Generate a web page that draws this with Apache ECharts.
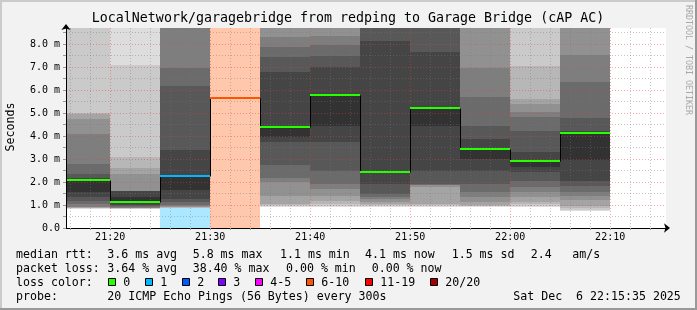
<!DOCTYPE html>
<html><head><meta charset="utf-8">
<script src="https://cdn.jsdelivr.net/npm/echarts@6/dist/echarts.min.js"></script>
<style>html,body{margin:0;padding:0;background:#f2f2f2;}#c{width:697px;height:310px;}</style>
</head><body><div id="c"></div>
<script>
// ---------------- DATA ----------------
const titleText = 'LocalNetwork/garagebridge from redping to Garage Bridge (cAP AC)';
const yAxisTitle = 'Seconds';
const watermark = 'RRDTOOL / TOBI OETIKER';
const viewStart = '21:15:35';
const viewEnd = '22:15:35';
const stepMinutes = 5;
const columnStart = ['21:15','21:20','21:25','21:30','21:35','21:40','21:45','21:50','21:55','22:00','22:05'];
const medianMs = [2.09, 1.12, 2.27, 5.67, 4.41, 5.78, 2.45, 5.23, 3.43, 2.93, 4.14];
const lostPings = [0, 0, 1, 8, 0, 0, 0, 0, 0, 0, 0];
// 20 sorted ping RTTs (ms) per 5-minute step; null = lost ping
const pingsC01 = [0.83,0.85,0.87,0.89,0.91,0.93,1.04,1.19,1.33,1.55,2.06,2.19,2.33,2.78,4.09,4.74,4.96,5.00,9.6,12.4];
const pingsC02 = [0.83,0.84,0.85,0.86,0.87,0.89,0.92,0.96,1.02,1.12,1.33,1.60,1.61,1.62,1.63,2.35,2.61,3.07,7.10,10.5];
const pingsC03 = [0.85,0.87,0.89,0.91,0.93,0.96,1.00,1.12,1.26,1.65,2.28,3.39,6.19,6.97,9.2,10.1,11.5,13.0,15.8,null];
const pingsC04 = [];
const pingsC05 = [0.93,0.96,1.00,1.04,1.41,1.98,2.16,2.74,3.75,3.97,4.41,6.77,7.42,7.86,8.29,9.1,9.8,10.9,12.6,15.3];
const pingsC06 = [0.93,0.97,1.05,1.19,1.41,1.70,1.91,2.49,3.72,4.45,5.80,6.99,7.49,7.97,8.36,9.2,10.3,11.6,13.8,17.0];
const pingsC07 = [0.93,0.96,1.00,1.06,1.15,1.26,1.33,1.48,1.91,2.40,2.45,8.14,9.0,9.6,10.4,11.3,12.5,14.0,16.2,19.5];
const pingsC08 = [0.93,0.96,1.00,1.04,1.80,1.85,1.88,1.91,2.49,4.45,5.25,7.64,9.1,9.7,10.5,11.4,12.6,14.1,16.5,20.0];
const pingsC09 = [0.93,0.95,0.97,1.00,1.12,1.33,1.55,1.91,2.49,3.00,3.43,3.87,4.45,5.68,6.98,9.3,10.2,11.4,13.1,16.0];
const pingsC10 = [0.93,0.97,1.05,1.15,1.33,1.55,1.80,2.06,2.42,2.64,2.93,3.29,4.23,4.81,5.03,5.39,5.61,7.06,9.4,12.2];
const pingsC11 = [0.75,0.80,0.85,0.97,1.20,1.41,1.55,1.84,2.06,2.96,4.15,4.20,4.78,6.33,7.54,9.0,9.9,11.0,12.9,15.6];
const yMaxMs = 8.7;
const yTickStep = 1;
const xLabelTimes = ['21:20','21:30','21:40','21:50','22:00','22:10'];
const lossLabels = ['0','1','2','3','4-5','6-10','11-19','20/20'];
const lossColors = ['#26ff00','#00b8ff','#0059ff','#7e00ff','#ff00ff','#ff5500','#ff0000','#a10000'];
const legendRtt = ['median rtt:','3.6 ms avg','5.8 ms max','1.1 ms min','4.1 ms now','1.5 ms sd','2.4','am/s'];
const legendLoss = ['packet loss:','3.64 % avg','38.40 % max','0.00 % min','0.00 % now'];
const legendLossColorLabel = 'loss color:';
const legendProbe = ['probe:','20 ICMP Echo Pings (56 Bytes) every 300s','Sat Dec  6 22:15:35 2025'];

// ---------------- BUILD ----------------
const MONO = '"DejaVu Sans Mono", monospace';
function hm(s){ const a = s.split(':').map(Number); return a[0]*60 + a[1] + (a[2]||0)/60; }
const xMin = hm(viewStart), xMax = hm(viewEnd);
const pingsByColumn = [pingsC01,pingsC02,pingsC03,pingsC04,pingsC05,pingsC06,pingsC07,pingsC08,pingsC09,pingsC10,pingsC11];
function lossBucket(n){ return n===0?0:n===1?1:n===2?2:n===3?3:n<=5?4:n<=10?5:n<20?6:7; }
function smokeGray(k){ const g = Math.floor(190/10*(10-k)) + 50; return 'rgb('+g+','+g+','+g+')'; }
function blend(hex, a){
  const r=parseInt(hex.substr(1,2),16), g=parseInt(hex.substr(3,2),16), b=parseInt(hex.substr(5,2),16);
  const f=v=>Math.round(255-(255-v)*a);
  return 'rgb('+f(r)+','+f(g)+','+f(b)+')';
}

const bandData = [];
const lossBgData = [];
const medianData = [];
columnStart.forEach((s,i)=>{
  const t0 = hm(s), t1 = t0 + stepMinutes;
  const p = pingsByColumn[i];
  if (p.length) {
    for (let k=1;k<=10;k++){
      const lo=p[k-1], hi=p[20-k];
      if (lo==null || hi==null) continue;
      bandData.push([t0,t1,lo,hi,k]);
    }
  }
  const b = lossBucket(lostPings[i]);
  if (lostPings[i] > 0) lossBgData.push([t0,t1,0,yMaxMs,b]);
  medianData.push([t0,t1,medianMs[i], i>0?medianMs[i-1]:medianMs[i], b]);
});

const xLabelValues = xLabelTimes.map(hm);
const xMinorValues = [];
for (let v=Math.ceil(xMin/2)*2; v<xMax; v+=2) xMinorValues.push(v);
const xMajorSet = new Set(xLabelValues);
const vGridData = xMinorValues.map(v=>[v, 0, xMajorSet.has(v)?1:0]);
const hGridData = [];
for (let v=0.5; v<yMaxMs; v+=0.5) hGridData.push([xMin, v, (Math.abs(v-Math.round(v))<1e-6)?1:0]);

const MINOR_GRID = 'rgba(120,120,120,0.42)';
const MAJOR_GRID = 'rgba(235,60,60,0.45)';

function clampRect(params, api, x0v, x1v, y0v, y1v){
  const cs = params.coordSys;
  const a = api.coord([x0v, y1v]), b = api.coord([x1v, y0v]);
  const x0 = Math.round(Math.max(a[0], cs.x)), x1 = Math.round(Math.min(b[0], cs.x+cs.width));
  const y0 = Math.round(Math.max(a[1], cs.y)), y1 = Math.round(Math.min(b[1], cs.y+cs.height));
  if (x1<=x0 || y1<=y0) return null;
  return {x:x0,y:y0,width:x1-x0,height:y1-y0};
}

const chart = echarts.init(document.getElementById('c'), null, {renderer:'canvas'});
const W=697, H=310;
const legendTextStyle = {fontFamily: MONO, fontSize: 11.6, fill:'#000', verticalAlign:'middle'};
const graphics = [];
graphics.push({type:'rect', z:-10, shape:{x:0,y:0,width:W,height:H}, style:{fill:'#f2f2f2'}, silent:true});
graphics.push({type:'rect', z:100, shape:{x:0,y:0,width:W,height:2}, style:{fill:'#cbcbcb'}, silent:true});
graphics.push({type:'rect', z:100, shape:{x:0,y:0,width:2,height:H}, style:{fill:'#cbcbcb'}, silent:true});
graphics.push({type:'rect', z:100, shape:{x:0,y:H-2,width:W,height:2}, style:{fill:'#999999'}, silent:true});
graphics.push({type:'rect', z:100, shape:{x:W-2,y:0,width:2,height:H}, style:{fill:'#999999'}, silent:true});
graphics.push({type:'text', x:348, y:19, style:{text:titleText, fontFamily:MONO, fontSize:13.3, fill:'#000', align:'center', verticalAlign:'middle'}});
graphics.push({type:'text', x:11, y:127, rotation:Math.PI/2, style:{text:yAxisTitle, fontFamily:MONO, fontSize:11.6, fill:'#000', align:'center', verticalAlign:'middle'}});
graphics.push({type:'text', x:688, y:60, rotation:-Math.PI/2, style:{text:watermark, fontFamily:MONO, fontSize:8.3, fill:'#a8a8a8', align:'center', verticalAlign:'middle'}});
const rttX = [16,107.3,192.7,280,365,451.7,530.7,572.3];
legendRtt.forEach((t,i)=>graphics.push({type:'text', x:rttX[i], y:254.5, style:Object.assign({text:t, align:'left'}, legendTextStyle)}));
const lossX = [16,107.3,192.7,286,371.7];
legendLoss.forEach((t,i)=>graphics.push({type:'text', x:lossX[i], y:268.5, style:Object.assign({text:t, align:'left'}, legendTextStyle)}));
graphics.push({type:'text', x:16, y:282.5, style:Object.assign({text:legendLossColorLabel, align:'left'}, legendTextStyle)});
const boxX = [108.5,145.5,182.5,218.5,255.5,306.5,365.5,430.5];
lossLabels.forEach((t,i)=>{
  graphics.push({type:'rect', shape:{x:boxX[i], y:278.5, width:7, height:7}, style:{fill:lossColors[i], stroke:'#000', lineWidth:1}});
  graphics.push({type:'text', x:boxX[i]+14.8, y:282.5, style:Object.assign({text:t, align:'left'}, legendTextStyle)});
});
const probeX = [16,107.3,513.3];
legendProbe.forEach((t,i)=>graphics.push({type:'text', x:probeX[i], y:296.5, style:Object.assign({text:t, align:'left'}, legendTextStyle)}));

const option = {
  backgroundColor: '#f2f2f2',
  animation: false,
  grid: {left:66, top:28, width:600, height:200, show:true, backgroundColor:'#ffffff', borderWidth:0},
  xAxis: {
    type:'value', min:xMin, max:xMax, splitNumber:6, z:5,
    axisLine:{show:true, lineStyle:{color:'#000', width:1}, symbol:['none','arrow'], symbolSize:[7,6], symbolOffset:[0,4]},
    axisTick:{show:true, length:2, customValues:xMinorValues, lineStyle:{color:'#999'}},
    axisLabel:{customValues:xLabelValues, margin:4, fontFamily:MONO, fontSize:10, color:'#000',
      formatter:v=>{const h=Math.floor(v/60), m=Math.round(v-h*60); return String(h).padStart(2,'0')+':'+String(m).padStart(2,'0');}},
    splitLine:{show:false}
  },
  yAxis: {
    type:'value', min:0, max:yMaxMs, interval:yTickStep, z:5,
    axisLine:{show:true, lineStyle:{color:'#000', width:1}, symbol:['none','arrow'], symbolSize:[7,6], symbolOffset:[0,4]},
    axisTick:{show:true, length:3, lineStyle:{color:'#999'}},
    minorTick:{show:true, splitNumber:2, length:3, lineStyle:{color:'#999'}},
    axisLabel:{showMaxLabel:false, margin:6, fontFamily:MONO, fontSize:10, color:'#000',
      formatter:v=> v===0 ? '0.0' : v.toFixed(1)+' m'},
    splitLine:{show:false}
  },
  graphic: graphics,
  series: [
    { type:'custom', name:'lossbg', z:1, data:lossBgData, encode:{x:[0,1], y:[2,3]},
      renderItem:(params, api)=>{
        const r = clampRect(params, api, api.value(0), api.value(1), api.value(2), api.value(3));
        if (!r) return;
        return {type:'rect', shape:r, style:{fill: blend(lossColors[api.value(4)], 0.33)}};
      }},
    { type:'custom', name:'smoke', z:1, data:bandData, encode:{x:[0,1], y:[2,3]},
      renderItem:(params, api)=>{
        const r = clampRect(params, api, api.value(0), api.value(1), api.value(2), api.value(3));
        if (!r) return;
        return {type:'rect', shape:r, style:{fill: smokeGray(api.value(4))}};
      }},
    { type:'custom', name:'vgrid', z:2, data:vGridData, encode:{x:0, y:1}, silent:true,
      renderItem:(params, api)=>{
        const cs = params.coordSys;
        const x = Math.floor(api.coord([api.value(0), 0])[0]) + 0.5;
        return {type:'line', shape:{x1:x, y1:cs.y, x2:x, y2:cs.y+cs.height},
          style:{stroke: api.value(2)?MAJOR_GRID:MINOR_GRID, lineWidth:1, lineDash:[1,2]}};
      }},
    { type:'custom', name:'hgrid', z:2, data:hGridData, encode:{x:0, y:1}, silent:true,
      renderItem:(params, api)=>{
        const cs = params.coordSys;
        const y = Math.floor(api.coord([xMin, api.value(1)])[1]) + 0.5;
        return {type:'line', shape:{x1:cs.x, y1:y, x2:cs.x+cs.width, y2:y},
          style:{stroke: api.value(2)?MAJOR_GRID:MINOR_GRID, lineWidth:1, lineDash:[1,2]}};
      }},
    { type:'custom', name:'medianStep', z:3, data:medianData, encode:{x:[0,1], y:2},
      renderItem:(params, api)=>{
        const cs = params.coordSys;
        const a = api.coord([api.value(0), api.value(2)]);
        const b = api.coord([api.value(1), api.value(2)]);
        const p = api.coord([api.value(0), api.value(3)]);
        const x0 = Math.max(Math.round(a[0]), cs.x), x1 = Math.min(Math.round(b[0]), cs.x+cs.width);
        const y = Math.round(a[1]) + 0.5, yp = Math.round(p[1]) + 0.5;
        const xv = Math.round(a[0]) + 0.5;
        const children = [
          {type:'line', shape:{x1:x0, y1:y, x2:x1, y2:y}, style:{stroke:'#000', lineWidth:1}}
        ];
        if (a[0] >= cs.x) children.push({type:'line', shape:{x1:xv, y1:yp, x2:xv, y2:y}, style:{stroke:'#000', lineWidth:1}});
        return {type:'group', children};
      }},
    { type:'custom', name:'median', z:4, data:medianData, encode:{x:[0,1], y:2},
      renderItem:(params, api)=>{
        const cs = params.coordSys;
        const a = api.coord([api.value(0), api.value(2)]);
        const b = api.coord([api.value(1), api.value(2)]);
        const x0 = Math.max(Math.round(a[0]), cs.x), x1 = Math.min(Math.round(b[0]), cs.x+cs.width);
        const y = Math.round(a[1]);
        return {type:'line', shape:{x1:x0, y1:y, x2:x1, y2:y}, style:{stroke: lossColors[api.value(4)], lineWidth:2}};
      }}
  ]
};
chart.setOption(option);
</script>
</body></html>
